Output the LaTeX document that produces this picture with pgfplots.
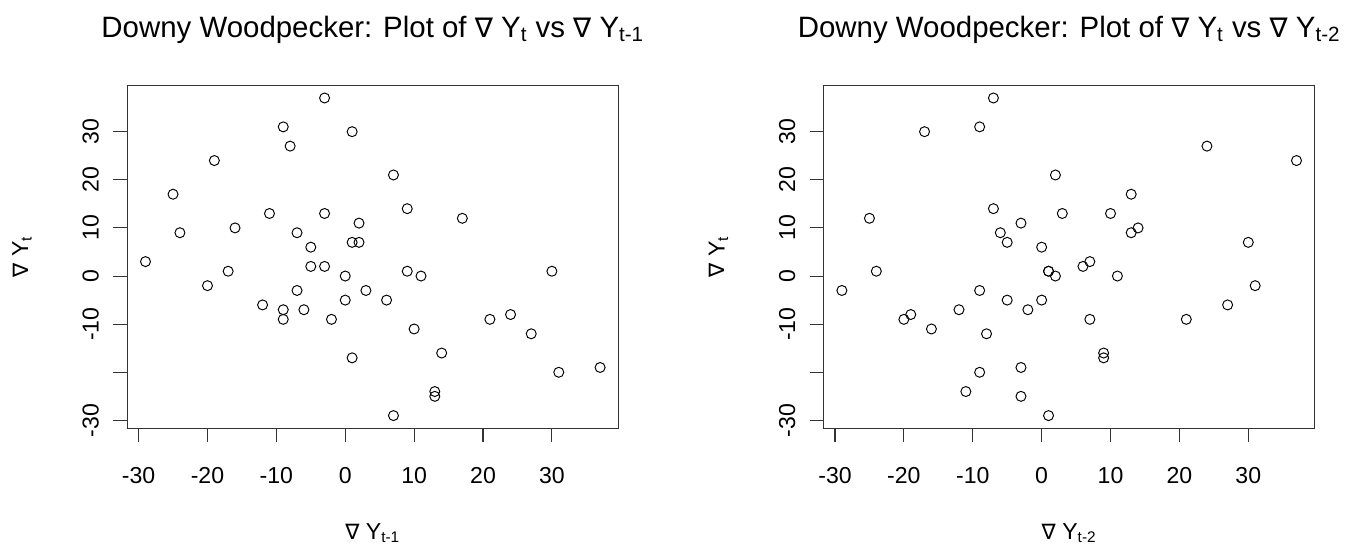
\documentclass[border=0pt]{standalone}
\usepackage{fontspec}
\setmainfont{Liberation Sans}
\newfontfamily\dejavu[Scale=0.92]{DejaVu Sans}
\usepackage{pgfplots}
\pgfplotsset{compat=1.18}
\newcommand{\nab}{{\dejavu\symbol{"2207}}}
\begin{document}
\begin{tikzpicture}
\useasboundingbox (0pt,0pt) rectangle (704.6pt,283.4pt);
\pgfplotsset{
  rstyle/.style={
    scale only axis, width=255.32pt, height=178.36pt,
    xmin=-31.64, xmax=39.64, ymin=-31.64, ymax=39.64,
    axis line style={black!80, line width=0.55pt},
    tick style={black!80, line width=0.55pt},
    tick align=outside, major tick length=7.2pt,
    tick pos=left,
    xtick={-30,-20,-10,0,10,20,30},
    ytick={-30,-20,-10,0,10,20,30},
    xticklabels={-30,-20,-10,0,10,20,30},
    yticklabels={-30,,-10,0,10,20,30},
    ticklabel style={font=\fontsize{12}{14}\selectfont},
    xticklabel style={anchor=center},
    yticklabel style={rotate=90, anchor=center},
    xticklabel shift=17.2pt,
    yticklabel shift=11.8pt,
    label style={font=\fontsize{12}{14}\selectfont},
    xlabel style={at={(axis description cs:0.5,-0.306)}, anchor=center},
    ylabel style={at={(axis description cs:-0.2145,0.5)}, anchor=center},
    title style={at={(axis description cs:0.5,1.129)}, anchor=center, font=\fontsize{15.3}{18}\selectfont},
  },
  rmarks/.style={only marks, mark=o, mark size=2.6pt, mark options={line width=0.5pt, black}, black},
}
\begin{axis}[rstyle, at={(66.196pt,60.684pt)}, anchor=south west,
  title={Downy Woodpecker: Plot of \nab\ Y\textsubscript{t} vs \nab\ Y\textsubscript{t-1}},
  xlabel={\nab\ Y\textsubscript{t-1}}, ylabel={\nab\ Y\textsubscript{t}}]
\addplot[rmarks] coordinates {
(-3,37) (-9,31) (1,30) (-8,27) (-19,24) (-25,17) (-11,13) (-3,13) (-24,9) (-16,10)
(2,11) (-7,9) (1,7) (2,7) (-5,6) (-29,3) (7,21) (9,14) (17,12) (-5,2)
(-3,2) (-17,1) (-20,-2) (0,0) (3,-3) (-7,-3) (-12,-6) (-9,-7) (-9,-9) (-6,-7)
(0,-5) (-2,-9) (1,-17) (9,1) (11,0) (6,-5) (10,-11) (14,-16) (13,-24) (13,-25)
(7,-29) (30,1) (21,-9) (24,-8) (27,-12) (31,-20) (37,-19)
};
\end{axis}
\begin{axis}[rstyle, at={(428.324pt,60.684pt)}, anchor=south west,
  title={Downy Woodpecker: Plot of \nab\ Y\textsubscript{t} vs \nab\ Y\textsubscript{t-2}},
  xlabel={\nab\ Y\textsubscript{t-2}}, ylabel={\nab\ Y\textsubscript{t}}]
\addplot[rmarks] coordinates {
(-7,37) (-17,30) (-9,31) (2,21) (-25,12) (-7,14) (3,13) (-3,11) (-6,9) (-5,7)
(0,6) (24,27) (37,24) (13,17) (10,13) (13,9) (14,10) (30,7) (7,3) (-29,-3)
(-24,1) (1,1) (1,1) (2,0) (-20,-9) (-19,-8) (-16,-11) (-12,-7) (-9,-3) (-8,-12)
(-5,-5) (-2,-7) (0,-5) (-9,-20) (-3,-19) (-11,-24) (-3,-25) (1,-29) (6,2) (11,0)
(7,-9) (9,-16) (9,-17) (21,-9) (27,-6) (31,-2)
};
\end{axis}
\end{tikzpicture}
\end{document}
